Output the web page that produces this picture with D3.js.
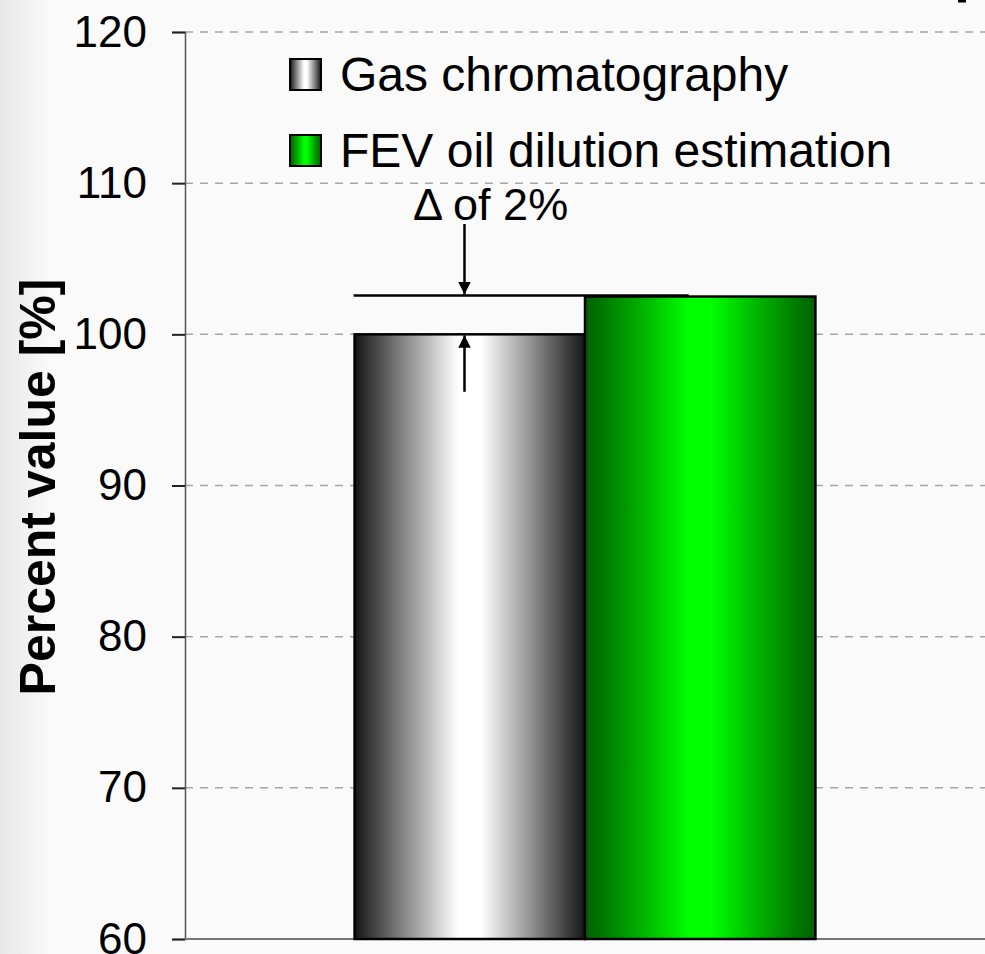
<!DOCTYPE html>
<html lang="en">
<head>
    <meta charset="UTF-8">
    <title>Percent value: Gas chromatography vs FEV oil dilution estimation</title>
    <style>
        body {
            margin: 0;
            background-color: #fafafa;
        }
        svg {
            display: block;
            font-family: "Liberation Sans", Arial, sans-serif;
        }
        .grid-line {
            stroke: #a6a6a6;
            stroke-width: 1.5;
            stroke-dasharray: 8 7;
        }
        .tick-label {
            fill: #000;
            font-size: 44px;
        }
    </style>
</head>
<body>
    <svg id="chart" width="985" height="954"></svg>

    <script src="https://d3js.org/d3.v7.min.js"></script>
    <script>
        // data
        var categories = ['Sample'];
        var seriesNames = ['Gas chromatography', 'FEV oil dilution estimation'];
        var seriesValues = [100, 102.5];
        var yTicks = [60, 70, 80, 90, 100, 110, 120];
        var deltaLabel = '\u0394 of 2%';
        var yTitle = 'Percent value [%]';

        var width = 985;
        var height = 954;
        var plotLeft = 185, plotRight = 985, plotTop = 32, plotBottom = 939;

        var svg = d3.select('#chart');
        var defs = svg.append('defs');

        // slide-like background with a light strip on the left
        var bgGrad = defs.append('linearGradient').attr('id', 'bgGrad')
            .attr('x1', 0).attr('x2', 1).attr('y1', 0).attr('y2', 0);
        bgGrad.append('stop').attr('offset', '0%').attr('stop-color', '#e8e8e8');
        bgGrad.append('stop').attr('offset', '60%').attr('stop-color', '#f2f2f2');
        bgGrad.append('stop').attr('offset', '100%').attr('stop-color', '#fafafa');
        svg.append('rect').attr('width', width).attr('height', height).attr('fill', '#fafafa');
        svg.append('rect').attr('width', 50).attr('height', height).attr('fill', 'url(#bgGrad)');

        // bar gradients
        function addGrad(id, edge, mid, soft) {
            var g = defs.append('linearGradient').attr('id', id)
                .attr('x1', 0).attr('x2', 1).attr('y1', 0).attr('y2', 0);
            g.append('stop').attr('offset', '0%').attr('stop-color', edge);
            g.append('stop').attr('offset', '22%').attr('stop-color', soft);
            g.append('stop').attr('offset', '45%').attr('stop-color', mid);
            g.append('stop').attr('offset', '55%').attr('stop-color', mid);
            g.append('stop').attr('offset', '78%').attr('stop-color', soft);
            g.append('stop').attr('offset', '100%').attr('stop-color', edge);
        }
        addGrad('grayGrad', '#151515', '#ffffff', '#8a8a8a');
        addGrad('greenGrad', '#005f00', '#00ff00', '#00a800');
        var fills = ['url(#grayGrad)', 'url(#greenGrad)'];

        // scales
        var yScale = d3.scaleLinear().domain([60, 120]).range([plotBottom, plotTop]);
        var xScale = d3.scaleBand().domain(categories)
            .range([plotLeft, plotRight]).paddingOuter(0.368).paddingInner(0);
        var xSeries = d3.scaleBand().domain(d3.range(seriesNames.length))
            .range([0, xScale.bandwidth()]).padding(0);

        // gridlines
        svg.append('g').selectAll('line')
            .data(yTicks.filter(d => d > 60))
            .enter().append('line')
            .attr('class', 'grid-line')
            .attr('x1', plotLeft).attr('x2', plotRight)
            .attr('y1', d => yScale(d)).attr('y2', d => yScale(d));

        // y axis
        var yAxis = d3.axisLeft(yScale).tickValues(yTicks).tickSize(13).tickPadding(25);
        var yAxisG = svg.append('g')
            .attr('transform', `translate(${plotLeft},0)`)
            .call(yAxis);
        yAxisG.select('.domain').attr('stroke', '#555').attr('stroke-width', 1.5);
        yAxisG.selectAll('.tick line').attr('stroke', '#222').attr('stroke-width', 2);
        yAxisG.selectAll('.tick text').attr('class', 'tick-label')
            .attr('font-family', null).attr('font-size', null);

        // x axis baseline
        svg.append('line')
            .attr('x1', plotLeft).attr('x2', plotRight)
            .attr('y1', yScale(60)).attr('y2', yScale(60))
            .attr('stroke', '#777').attr('stroke-width', 2);

        // bars
        var group = svg.append('g')
            .attr('transform', `translate(${xScale(categories[0])},0)`);
        group.selectAll('rect')
            .data(seriesValues)
            .enter().append('rect')
            .attr('x', (d, i) => xSeries(i))
            .attr('y', d => yScale(d))
            .attr('width', xSeries.bandwidth())
            .attr('height', d => yScale(60) - yScale(d))
            .attr('fill', (d, i) => fills[i])
            .attr('stroke', '#000')
            .attr('stroke-width', 2.5);

        // delta annotation
        var x0 = xScale(categories[0]);
        var bw = xSeries.bandwidth();
        var arrowX = x0 + bw * 0.477;
        var yHigh = yScale(seriesValues[1]);
        var yLow = yScale(seriesValues[0]);

        defs.append('marker').attr('id', 'arrowHead')
            .attr('viewBox', '0 0 10 10').attr('refX', 10).attr('refY', 5)
            .attr('markerWidth', 5).attr('markerHeight', 5)
            .attr('markerUnits', 'strokeWidth')
            .attr('orient', 'auto')
            .append('path').attr('d', 'M0,0 L10,5 L0,10 Z').attr('fill', '#000');

        svg.append('line')
            .attr('x1', x0 - 1).attr('x2', x0 + bw * 1.45)
            .attr('y1', yHigh - 1).attr('y2', yHigh - 1)
            .attr('stroke', '#000').attr('stroke-width', 2.5);

        svg.append('line')
            .attr('x1', arrowX).attr('x2', arrowX)
            .attr('y1', yScale(107.3)).attr('y2', yHigh - 2)
            .attr('stroke', '#000').attr('stroke-width', 2.5)
            .attr('marker-end', 'url(#arrowHead)');

        svg.append('line')
            .attr('x1', arrowX).attr('x2', arrowX)
            .attr('y1', yScale(96.2)).attr('y2', yLow + 1)
            .attr('stroke', '#000').attr('stroke-width', 2.5)
            .attr('marker-end', 'url(#arrowHead)');

        svg.append('text')
            .attr('x', 413).attr('y', 220)
            .attr('font-size', '45px')
            .attr('fill', '#000')
            .text(deltaLabel);

        // legend
        var legend = svg.append('g').attr('transform', 'translate(290,59)');
        var items = legend.selectAll('g')
            .data(seriesNames)
            .enter().append('g')
            .attr('transform', (d, i) => `translate(0,${i * 76})`);
        items.append('rect')
            .attr('width', 31).attr('height', 31)
            .attr('fill', (d, i) => fills[i])
            .attr('stroke', '#000').attr('stroke-width', 2);
        items.append('text')
            .attr('x', 50).attr('y', 32)
            .attr('font-size', '48px')
            .attr('fill', '#000')
            .text(d => d);

        // y title
        svg.append('text')
            .attr('transform', 'translate(55,487) rotate(-90)')
            .attr('text-anchor', 'middle')
            .attr('font-size', '50px')
            .attr('font-weight', 'bold')
            .attr('fill', '#000')
            .text(yTitle);

        // small mark at top-right edge
        svg.append('rect')
            .attr('x', 958).attr('y', 0).attr('width', 8).attr('height', 2.5)
            .attr('fill', '#000');
    </script>
</body>
</html>
